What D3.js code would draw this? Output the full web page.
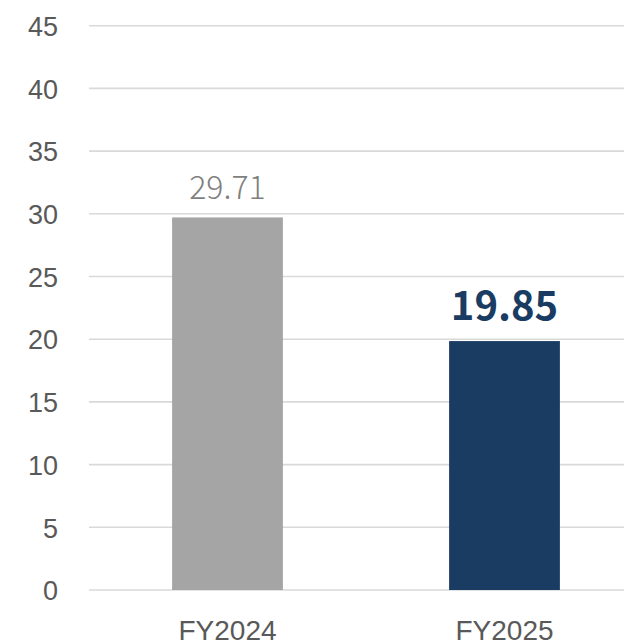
<!DOCTYPE html>
<html><head><meta charset="utf-8">
<script src="https://cdn.jsdelivr.net/npm/d3@7"></script>
<style>html,body{margin:0;padding:0;background:#fff;overflow:hidden}</style>
</head><body>
<svg id="c" width="624" height="643"></svg>
<script>
const categories = ["FY2024", "FY2025"];
const values = [29.71, 19.85];
const labels = ["29.71", "19.85"];
const yTicks = [0, 5, 10, 15, 20, 25, 30, 35, 40, 45];
const barColors = ["#a5a5a5", "#1a3c62"];

const svg = d3.select("#c");
const y = d3.scaleLinear().domain([0, 45]).range([590, 25.7]);
const x = d3.scaleBand().domain(categories).range([89, 643]).paddingInner(0.6).paddingOuter(0.3);

// gridlines
svg.append("g").selectAll("line").data(yTicks).join("line")
  .attr("x1", 89).attr("x2", 624)
  .attr("y1", d => y(d)).attr("y2", d => y(d))
  .attr("stroke", "#d9d9d9").attr("stroke-width", 1.6);

// y axis labels
const yAxis = d3.axisLeft(y).tickValues(yTicks).tickSize(0).tickPadding(0);
const ga = svg.append("g").attr("transform", "translate(58,0)").call(yAxis);
ga.select(".domain").remove();
ga.selectAll("text").attr("font-family", "'Liberation Sans', Arial, sans-serif")
  .attr("font-size", 27).attr("fill", "#595959").attr("dy", "0.36em");

// bars
svg.append("g").selectAll("rect").data(values).join("rect")
  .attr("x", (d, i) => x(categories[i]))
  .attr("width", x.bandwidth())
  .attr("y", d => y(d))
  .attr("height", d => y(0) - y(d))
  .attr("fill", (d, i) => barColors[i]);

// x axis labels
const xAxis = d3.axisBottom(x).tickSize(0).tickPadding(0);
const gx = svg.append("g").attr("transform", "translate(0,620)").call(xAxis);
gx.select(".domain").remove();
gx.selectAll("text").attr("font-family", "'Liberation Sans', Arial, sans-serif")
  .attr("font-size", 28).attr("fill", "#595959").attr("dy", "0.72em");

// data labels
svg.append("text")
  .attr("x", x(categories[0]) + x.bandwidth() / 2)
  .attr("y", y(values[0]) - 18)
  .attr("text-anchor", "middle")
  .attr("font-family", "'Noto Sans CJK JP', 'Noto Sans', sans-serif")
  .attr("font-weight", 300)
  .attr("font-size", 32).attr("fill", "#7f7f7f")
  .text(labels[0]);
svg.append("text")
  .attr("x", x(categories[1]) + x.bandwidth() / 2)
  .attr("y", y(values[1]) - 21)
  .attr("text-anchor", "middle")
  .attr("font-family", "'Noto Sans CJK JP', 'Noto Sans', sans-serif")
  .attr("font-weight", 700)
  .attr("font-size", 40).attr("fill", "#1a3c62")
  .text(labels[1]);
</script>
</body></html>
